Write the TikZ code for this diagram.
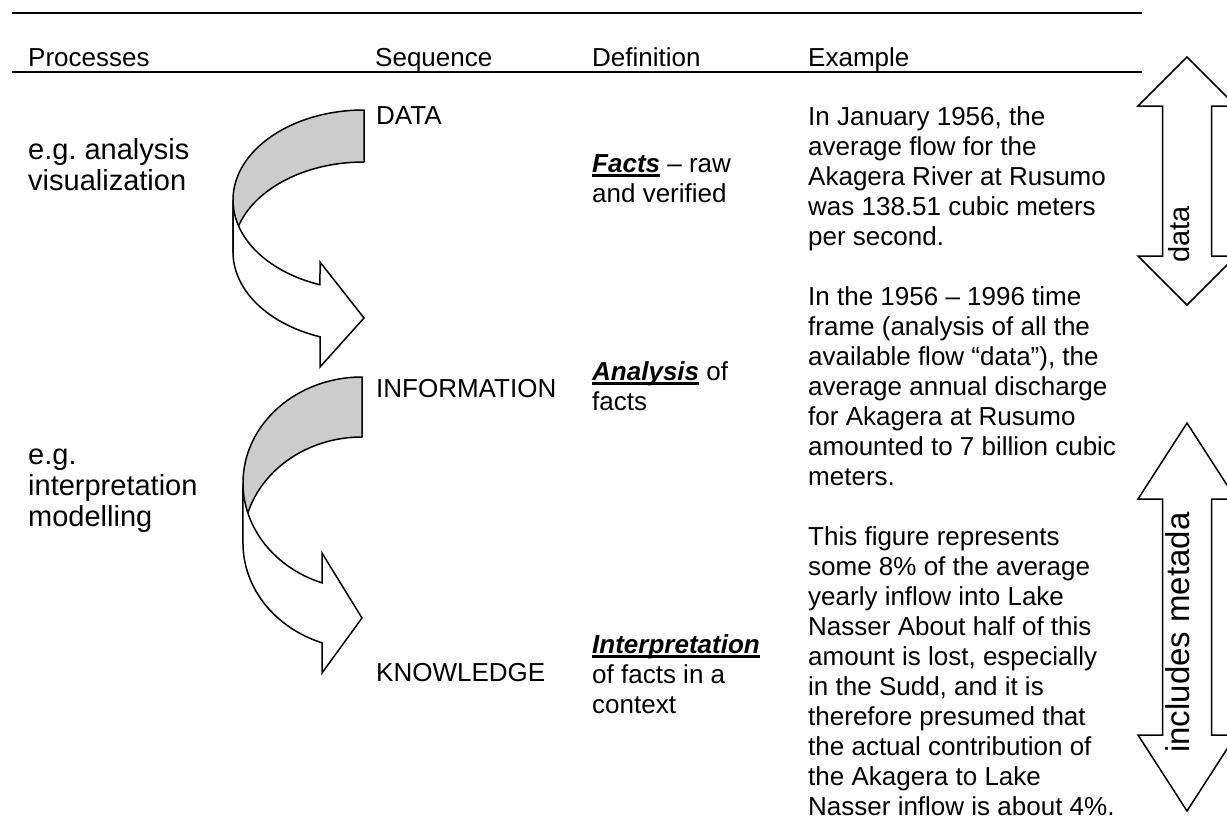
\documentclass[tikz,border=0pt]{standalone}
\usepackage{fontspec}
\setmainfont{Liberation Sans}
\definecolor{backgrey}{HTML}{CCCCCC}
\tikzset{
  txt/.style={inner sep=0pt, anchor=base west, align=left, font=\fontsize{26}{30}\selectfont},
  proc/.style={inner sep=0pt, anchor=base west, align=left, font=\fontsize{29}{31}\selectfont},
  rulebar/.style={line width=2pt},
  backband/.style={line width=1.5pt, line join=round, fill=backgrey},
  frontband/.style={line width=1.5pt, line join=miter, fill=white},
  dblarrow/.style={line width=1.5pt, line join=miter, fill=white},
  vlabel/.style={inner sep=0pt, anchor=mid west, rotate=90},
}
\newcommand{\defword}[1]{\setbox0\hbox{\textbf{\textit{#1}}}\rlap{\rule[-4.6pt]{\wd0}{2.3pt}}\box0\relax}
\frenchspacing
\begin{document}
\begin{tikzpicture}[x=1pt,y=-1pt]
\useasboundingbox (0,0) rectangle (1227,822);
\clip (0,0) rectangle (1227,822);

% rules
\coordinate (r1a) at (12,13);  \coordinate (r1b) at (1142,13);
\coordinate (r2a) at (12,72);  \coordinate (r2b) at (1142,72);
\draw[rulebar] (r1a) -- (r1b);
\draw[rulebar] (r2a) -- (r2b);

% header
\node[txt] (hproc) at (28,66) {Processes};
\node[txt] (hseq)  at (375,66) {Sequence};
\node[txt] (hdef)  at (592,66) {Definition};
\node[txt] (hex)   at (808,66) {Example};

% processes (anchored at baseline of last line)
\node[proc] (p1) at (28,190) {e.g. analysis\\visualization};
\node[proc] (p2) at (28,526) {e.g.\\interpretation\\modelling};

% curved arrow 1
\draw[backband] (364,110) arc[start angle=-90, end angle=-180, x radius=131, y radius=90]
  -- (233,252) arc[start angle=180, end angle=270, x radius=131, y radius=90] -- cycle;
\draw[frontband] (233,200) arc[start angle=180, end angle=109.63, x radius=131, y radius=90]
  -- (320,262) -- (364,318) -- (320,367) -- (320,336.8)
  arc[start angle=109.63, end angle=180, x radius=131, y radius=90] -- cycle;

% curved arrow 2
\draw[backband] (362,377) arc[start angle=-90, end angle=-180, x radius=119, y radius=106]
  -- (243,543) arc[start angle=180, end angle=270, x radius=119, y radius=106] -- cycle;
\draw[frontband] (243,483) arc[start angle=180, end angle=109.63, x radius=119, y radius=106]
  -- (322,553) -- (362,618) -- (322,673) -- (322,642.8)
  arc[start angle=109.63, end angle=180, x radius=119, y radius=106] -- cycle;

% sequence
\node[txt] (sdata) at (376,124) {DATA};
\node[txt] (sinfo) at (376,397) {INFORMATION};
\node[txt] (sknow) at (376,681) {KNOWLEDGE};

% definitions (anchored at baseline of last line)
\node[txt] (dfacts) at (592,202) {\defword{Facts} – raw\\and verified};
\node[txt] (danal)  at (592,410) {\defword{Analysis} of\\facts};
\node[txt] (dinter) at (592,713) {\defword{Interpretation}\\of facts in a\\context};

% examples (anchored at baseline of last line)
\node[txt] (ex1) at (808,245) {In January 1956, the\\average flow for the\\Akagera River at Rusumo\\was 138.51 cubic meters\\per second.};
\node[txt] (ex2) at (808,485) {In the 1956 – 1996 time\\frame (analysis of all the\\available flow “data”), the\\average annual discharge\\for Akagera at Rusumo\\amounted to 7 billion cubic\\meters.};
\node[txt] (ex3) at (808,815) {This figure represents\\some 8\% of the average\\yearly inflow into Lake\\Nasser About half of this\\amount is lost, especially\\in the Sudd, and it is\\therefore presumed that\\the actual contribution of\\the Akagera to Lake\\Nasser inflow is about 4\%.};

% double arrows
\draw[dblarrow] (1187,57) -- (1236,106) -- (1211.5,106) -- (1211.5,256) -- (1236,256) -- (1187,305)
  -- (1138,256) -- (1162.5,256) -- (1162.5,106) -- (1138,106) -- cycle;
\node[vlabel, font=\fontsize{29}{31}\selectfont] (ldata) at (1187,263) {data};

\draw[dblarrow] (1187,423) -- (1236,499) -- (1211.5,499) -- (1211.5,735) -- (1236,735) -- (1187,811)
  -- (1138,735) -- (1162.5,735) -- (1162.5,499) -- (1138,499) -- cycle;
\node[vlabel, font=\fontsize{33}{35}\selectfont] (lmeta) at (1187,753) {includes metada};
\end{tikzpicture}
\end{document}
